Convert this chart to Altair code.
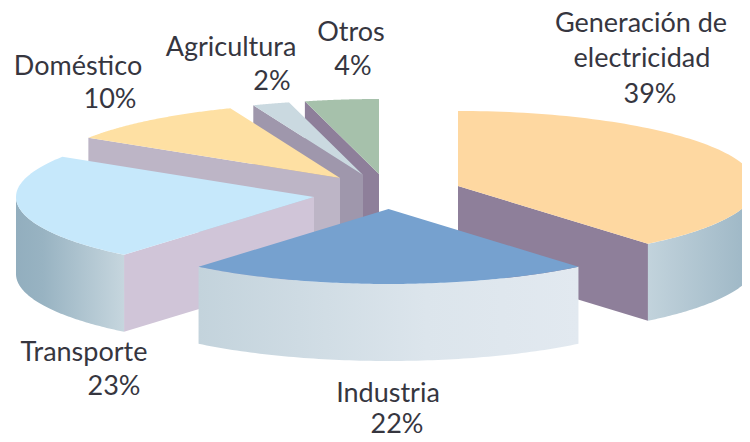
import numpy as np
import pandas as pd
import altair as alt

# ---- data ----
sectors = ["Generación de electricidad", "Industria", "Transporte", "Doméstico", "Agricultura", "Otros"]
shares = [39, 22, 23, 10, 2, 4]
label_lines = [["Generación de", "electricidad"], ["Industria"], ["Transporte"], ["Doméstico"], ["Agricultura"], ["Otros"]]

# ---- layout (page pixels, not data) ----
OFF = 8
A, B, DEPTH = 298, 75, 77
apex = {"Generación de electricidad": (458, 186), "Industria": (388.5, 209), "Transporte": (314, 197),
        "Doméstico": (340, 178), "Agricultura": (363, 175), "Otros": (379, 174)}
text_pos = {"Generación de electricidad": [(641, 32), (642, 67), (650, 103)],
            "Industria": [(388, 402), (397, 433)],
            "Transporte": [(84, 361), (114, 395)],
            "Doméstico": [(78, 75), (110, 108)],
            "Agricultura": [(231, 56), (272, 90)],
            "Otros": [(351, 41), (353, 75)]}
top_col = {"Generación de electricidad": "#FED8A1", "Industria": "#76A1CF", "Transporte": "#C6E8FB",
           "Doméstico": "#FEE0A3", "Agricultura": "#CAD9E0", "Otros": "#A6C1AB"}
cut_col = {"Generación de electricidad": "#8E7F9A", "Transporte": "#D0C5D8", "Doméstico": "#BDB5C6",
           "Agricultura": "#9F97AC", "Otros": "#8E7F9A"}
rim_stops = {"Generación de electricidad": [(0, "#C2D3DC"), (1, "#9BB5C4")],
             "Industria": [(0, "#C3D3DC"), (0.6, "#DCE5EC"), (1, "#E2E9F0")],
             "Transporte": [(0, "#92AEBE"), (0.25, "#98B3C2"), (1, "#C6D6DE")]}
draw_order = ["Otros", "Agricultura", "Doméstico", "Generación de electricidad", "Transporte", "Industria"]


def pt(name, t, dy=0):
    cx, cy = apex[name]
    r = np.radians(t)
    return [float(cx + A * np.cos(r) - OFF), float(cy + B * np.sin(r) + dy - OFF)]


def shape(coords, fill):
    feat = {"type": "Feature", "properties": {}, "geometry": {"type": "Polygon", "coordinates": [coords + [coords[0]]]}}
    return alt.Chart(alt.InlineData(values=[feat])).mark_geoshape(
        fill=fill, stroke=None, strokeWidth=0, clip=True
    ).project(type="identity", scale=1, translate=[0, 0])


angles = {}
cur = -90.0
for n, v in zip(sectors, shares):
    angles[n] = (cur, cur + v * 3.6)
    cur += v * 3.6

layers = []
for n in draw_order:
    t0, t1 = angles[n]
    cx, cy = apex[n]
    centre = [cx - OFF, cy - OFF]
    # cut wall
    if n in cut_col:
        t = t1 if n.startswith("Gener") else t0
        e = pt(n, t)
        layers.append(shape([centre, e, [e[0], e[1] + DEPTH], [centre[0], centre[1] + DEPTH]], cut_col[n]))
    # outer wall
    if n in rim_stops:
        lo, hi = max(t0, 0), min(t1, 180)
        ts = np.linspace(lo, hi, 80)
        coords = [pt(n, a) for a in ts] + [pt(n, a, DEPTH) for a in ts[::-1]]
        grad = alt.Gradient(gradient="linear", x1=0, x2=1, y1=0, y2=0,
                            stops=[alt.GradientStop(offset=o, color=c) for o, c in rim_stops[n]])
        layers.append(shape(coords, grad))
    # top face
    ts = np.linspace(t0, t1, 100)
    layers.append(shape([centre] + [pt(n, a) for a in ts], top_col[n]))

rows = []
for n, v, lines in zip(sectors, shares, label_lines):
    for s, (x, y) in zip(lines + [f"{v}%"], text_pos[n]):
        rows.append({"s": s, "x": x - OFF, "y": y - OFF})

text = alt.Chart(pd.DataFrame(rows)).mark_text(
    font="Lato", fontSize=27, color="#36363F", align="center", baseline="alphabetic"
).encode(x=alt.X("x:Q", scale=None), y=alt.Y("y:Q", scale=None), text="s:N")

chart = alt.layer(*layers, text).properties(
    width=734, height=426, padding=0, background="white"
).configure_view(stroke=None)

chart.save("out.html", embed_options={"renderer": "svg", "actions": False})
